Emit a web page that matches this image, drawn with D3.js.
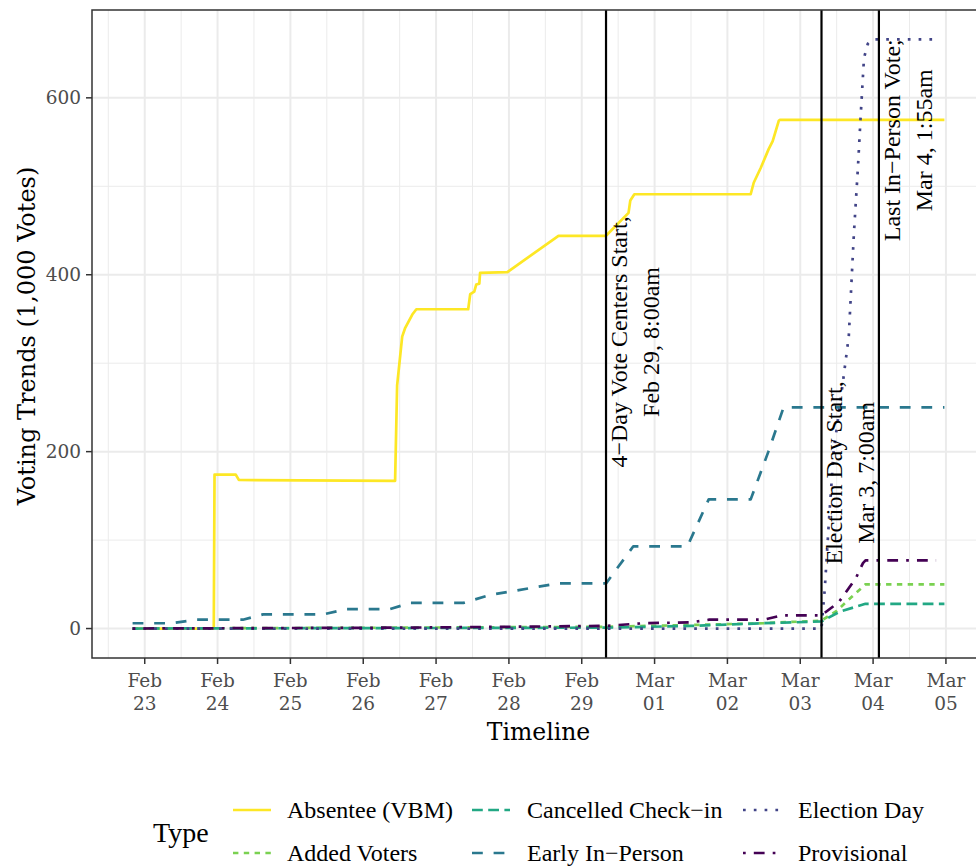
<!DOCTYPE html>
<html><head><meta charset="utf-8">
<script src="https://cdn.jsdelivr.net/npm/d3@7"></script>
<style>body{margin:0;background:#fff} svg{display:block}</style>
</head><body><svg id="c" width="976" height="867"></svg>
<script>
// ---------- DATA (values in 1,000 votes) ----------
const seriesNames = ["Absentee (VBM)", "Added Voters", "Cancelled Check\u2212in", "Early In\u2212Person", "Election Day", "Provisional"];

const absenteeVBM = [
  ["2020-02-22T20:00", 0], ["2020-02-23T22:45", 0], ["2020-02-23T23:00", 174], ["2020-02-24T06:00", 174],
  ["2020-02-24T07:00", 168], ["2020-02-26T10:30", 167], ["2020-02-26T11:10", 275], ["2020-02-26T12:50", 330],
  ["2020-02-26T13:50", 340], ["2020-02-26T16:10", 355], ["2020-02-26T17:30", 361], ["2020-02-27T10:35", 361],
  ["2020-02-27T11:15", 378], ["2020-02-27T12:35", 381], ["2020-02-27T13:15", 389], ["2020-02-27T14:15", 390],
  ["2020-02-27T14:30", 402], ["2020-02-27T23:30", 403], ["2020-02-28T16:20", 444], ["2020-02-29T08:00", 444],
  ["2020-02-29T15:25", 470], ["2020-02-29T16:00", 484], ["2020-02-29T17:20", 491], ["2020-03-02T07:40", 491],
  ["2020-03-02T08:40", 504], ["2020-03-02T11:00", 521], ["2020-03-02T13:35", 542], ["2020-03-02T14:55", 551],
  ["2020-03-02T16:55", 574], ["2020-03-02T17:15", 575], ["2020-03-04T23:30", 575]
];
const addedVoters = [
  ["2020-02-22T20:00", 0], ["2020-02-26T12:00", 1], ["2020-02-29T08:00", 2], ["2020-03-01T12:00", 4],
  ["2020-03-02T12:00", 6], ["2020-03-03T07:00", 9], ["2020-03-03T12:00", 20], ["2020-03-03T17:00", 36],
  ["2020-03-03T21:30", 50], ["2020-03-04T23:30", 50]
];
const cancelledCheckIn = [
  ["2020-02-22T20:00", 0], ["2020-02-29T08:00", 1], ["2020-03-01T12:00", 3], ["2020-03-02T12:00", 6],
  ["2020-03-03T07:00", 8], ["2020-03-03T13:00", 19], ["2020-03-03T21:30", 28], ["2020-03-04T23:30", 28]
];
const earlyInPerson = [
  ["2020-02-22T20:00", 6], ["2020-02-23T09:00", 6], ["2020-02-23T17:10", 10], ["2020-02-24T08:20", 10],
  ["2020-02-24T15:00", 16], ["2020-02-25T10:45", 16], ["2020-02-25T18:40", 22], ["2020-02-26T08:50", 22],
  ["2020-02-26T15:30", 29], ["2020-02-27T09:00", 29], ["2020-02-27T17:50", 38], ["2020-02-28T02:30", 43],
  ["2020-02-28T16:00", 51], ["2020-02-29T08:00", 51], ["2020-02-29T17:00", 93], ["2020-03-01T10:50", 93],
  ["2020-03-01T17:50", 146], ["2020-03-02T07:40", 146], ["2020-03-02T13:30", 200], ["2020-03-02T18:30", 250],
  ["2020-03-04T23:30", 250]
];
const electionDay = [
  ["2020-02-22T20:00", 0], ["2020-03-03T07:00", 0], ["2020-03-03T07:30", 21], ["2020-03-03T08:05", 45],
  ["2020-03-03T09:25", 120], ["2020-03-03T11:00", 200], ["2020-03-03T14:00", 277], ["2020-03-03T16:00", 331],
  ["2020-03-03T17:40", 446], ["2020-03-03T19:00", 521], ["2020-03-03T20:00", 585], ["2020-03-03T21:00", 645],
  ["2020-03-03T22:15", 661], ["2020-03-03T23:55", 666], ["2020-03-04T21:30", 666]
];
const provisional = [
  ["2020-02-22T20:00", 0], ["2020-02-26T12:00", 1], ["2020-02-28T00:00", 2], ["2020-02-29T08:00", 3],
  ["2020-02-29T20:20", 6], ["2020-03-01T12:00", 7], ["2020-03-01T18:00", 10], ["2020-03-02T12:00", 10],
  ["2020-03-02T18:00", 15], ["2020-03-03T07:00", 15], ["2020-03-03T12:45", 30], ["2020-03-03T18:20", 57],
  ["2020-03-03T20:40", 74], ["2020-03-03T21:30", 77], ["2020-03-04T20:45", 77]
];
const seriesData = [absenteeVBM, addedVoters, cancelledCheckIn, earlyInPerson, electionDay, provisional];

const xTickDates = ["2020-02-23T00:00", "2020-02-24T00:00", "2020-02-25T00:00", "2020-02-26T00:00", "2020-02-27T00:00", "2020-02-28T00:00",
  "2020-02-29T00:00", "2020-03-01T00:00", "2020-03-02T00:00", "2020-03-03T00:00", "2020-03-04T00:00", "2020-03-05T00:00"];
const xTickMonth = ["Feb", "Feb", "Feb", "Feb", "Feb", "Feb", "Feb", "Mar", "Mar", "Mar", "Mar", "Mar"];
const xTickDay = ["23", "24", "25", "26", "27", "28", "29", "01", "02", "03", "04", "05"];
const yTicks = [0, 200, 400, 600];
const yMinor = [100, 300, 500];

const eventTimes = ["2020-02-29T08:00", "2020-03-03T07:00", "2020-03-04T01:55"];
const eventLabels = [["4\u2212Day Vote Centers Start,", "Feb 29, 8:00am"], ["Election Day Start,", "Mar 3, 7:00am"], ["Last In\u2212Person Vote;", "Mar 4, 1:55am"]];
const eventLabelY = [324, 176, 552];

const xTitle = "Timeline", yTitle = "Voting Trends (1,000 Votes)", legendTitle = "Type";

// ---------- STYLE ----------
const colors = ["#FDE725", "#7AD151", "#22A884", "#2A788E", "#414487", "#440154"];
const u = 2.7;
const dashes = [null, [2, 2], [4, 2], [4, 4], [1, 3], [1, 3, 4, 3]].map(d => d ? d.map(v => v * u).join(",") : null);

// ---------- DRAW ----------
const parse = d3.utcParse("%Y-%m-%dT%H:%M");
const svg = d3.select("#c");
const P = {l: 92, r: 985, t: 10, b: 658};

const allT = seriesData.flat().map(d => parse(d[0]));
const [t0, t1] = d3.extent(allT);
const padT = (t1 - t0) * 0.05;
const x = d3.scaleUtc().domain([new Date(+t0 - padT), new Date(+t1 + padT)]).range([P.l, P.r]);
const vmax = d3.max(seriesData.flat(), d => d[1]);
const y = d3.scaleLinear().domain([-vmax * 0.05, vmax * 1.05]).range([P.b, P.t]);

const g = svg.append("g");
g.append("defs").append("clipPath").attr("id", "clip").append("rect")
  .attr("x", P.l).attr("y", P.t).attr("width", P.r - P.l).attr("height", P.b - P.t);

// grid
const minorX = xTickDates.slice(0, -1).map(d => new Date(+parse(d) + 12 * 3600e3));
minorX.unshift(new Date(+parse(xTickDates[0]) - 12 * 3600e3));
minorX.push(new Date(+parse(xTickDates[xTickDates.length - 1]) + 12 * 3600e3));
const grid = g.append("g").attr("clip-path", "url(#clip)");
grid.selectAll(".mx").data(minorX).join("line").attr("x1", d => x(d)).attr("x2", d => x(d))
  .attr("y1", P.t).attr("y2", P.b).attr("stroke", "#EBEBEB").attr("stroke-width", 1);
grid.selectAll(".my").data(yMinor).join("line").attr("y1", d => y(d)).attr("y2", d => y(d))
  .attr("x1", P.l).attr("x2", P.r).attr("stroke", "#EBEBEB").attr("stroke-width", 1);
grid.selectAll(".Mx").data(xTickDates).join("line").attr("x1", d => x(parse(d))).attr("x2", d => x(parse(d)))
  .attr("y1", P.t).attr("y2", P.b).attr("stroke", "#EBEBEB").attr("stroke-width", 2);
grid.selectAll(".My").data(yTicks).join("line").attr("y1", d => y(d)).attr("y2", d => y(d))
  .attr("x1", P.l).attr("x2", P.r).attr("stroke", "#EBEBEB").attr("stroke-width", 2);

// series
const line = d3.line().x(d => x(parse(d[0]))).y(d => y(d[1]));
const lines = g.append("g").attr("clip-path", "url(#clip)");
seriesData.forEach((s, i) => {
  lines.append("path").attr("d", line(s)).attr("fill", "none").attr("stroke", colors[i])
    .attr("stroke-width", u).attr("stroke-dasharray", dashes[i]).attr("stroke-linecap", "butt").attr("stroke-linejoin", "round");
});

// event lines
eventTimes.forEach(t => {
  g.append("line").attr("x1", x(parse(t))).attr("x2", x(parse(t))).attr("y1", P.t).attr("y2", P.b)
    .attr("stroke", "#000").attr("stroke-width", 2.2);
});
eventLabels.forEach((lbls, i) => {
  const cx = x(parse(eventTimes[i])), cy = y(eventLabelY[i]);
  lbls.forEach((s, j) => {
    g.append("text").attr("transform", `translate(${cx + 21 + j * 32},${cy}) rotate(-90)`)
      .attr("text-anchor", "middle").attr("font-family", "Liberation Serif").attr("font-size", 24)
      .attr("fill", "#000").text(s);
  });
});

// panel border
g.append("rect").attr("x", P.l).attr("y", P.t).attr("width", P.r - P.l).attr("height", P.b - P.t)
  .attr("fill", "none").attr("stroke", "#333333").attr("stroke-width", 1.5);

// axes
const ax = g.append("g");
xTickDates.forEach((d, i) => {
  const px = x(parse(d));
  ax.append("line").attr("x1", px).attr("x2", px).attr("y1", P.b).attr("y2", P.b + 6).attr("stroke", "#333").attr("stroke-width", 1.5);
  ax.append("text").attr("x", px).attr("y", 687).attr("text-anchor", "middle").attr("font-family", "DejaVu Serif")
    .attr("font-size", 18.5).attr("fill", "#4D4D4D").text(xTickMonth[i]);
  ax.append("text").attr("x", px).attr("y", 710).attr("text-anchor", "middle").attr("font-family", "DejaVu Serif")
    .attr("font-size", 18.5).attr("fill", "#4D4D4D").text(xTickDay[i]);
});
yTicks.forEach(v => {
  const py = y(v);
  ax.append("line").attr("x1", P.l - 6).attr("x2", P.l).attr("y1", py).attr("y2", py).attr("stroke", "#333").attr("stroke-width", 1.5);
  ax.append("text").attr("x", P.l - 11).attr("y", py).attr("dy", "0.36em").attr("text-anchor", "end")
    .attr("font-family", "DejaVu Serif").attr("font-size", 18.5).attr("fill", "#4D4D4D").text(v);
});
ax.append("text").attr("x", (P.l + P.r) / 2).attr("y", 740).attr("text-anchor", "middle")
  .attr("font-family", "DejaVu Serif").attr("font-size", 23.5).attr("fill", "#000").text(xTitle);
ax.append("text").attr("transform", `translate(35,${(P.t + P.b) / 2 + 2}) rotate(-90)`).attr("text-anchor", "middle")
  .attr("font-family", "DejaVu Serif").attr("font-size", 24).attr("fill", "#000").text(yTitle);

// legend
const lg = svg.append("g");
lg.append("text").attr("x", 153).attr("y", 842).attr("font-family", "Liberation Serif").attr("font-size", 28).attr("fill", "#000").text(legendTitle);
const colKeyX = [233, 472, 743], colTextX = [287, 527, 798], rowY = [810, 853];
seriesNames.forEach((name, i) => {
  const c = Math.floor(i / 2), r = i % 2;
  lg.append("line").attr("x1", colKeyX[c]).attr("x2", colKeyX[c] + 38).attr("y1", rowY[r]).attr("y2", rowY[r])
    .attr("stroke", colors[i]).attr("stroke-width", u).attr("stroke-dasharray", dashes[i]);
  lg.append("text").attr("x", colTextX[c]).attr("y", rowY[r] + 8).attr("font-family", "Liberation Serif")
    .attr("font-size", 24).attr("fill", "#000").text(name);
});
</script></body></html>
